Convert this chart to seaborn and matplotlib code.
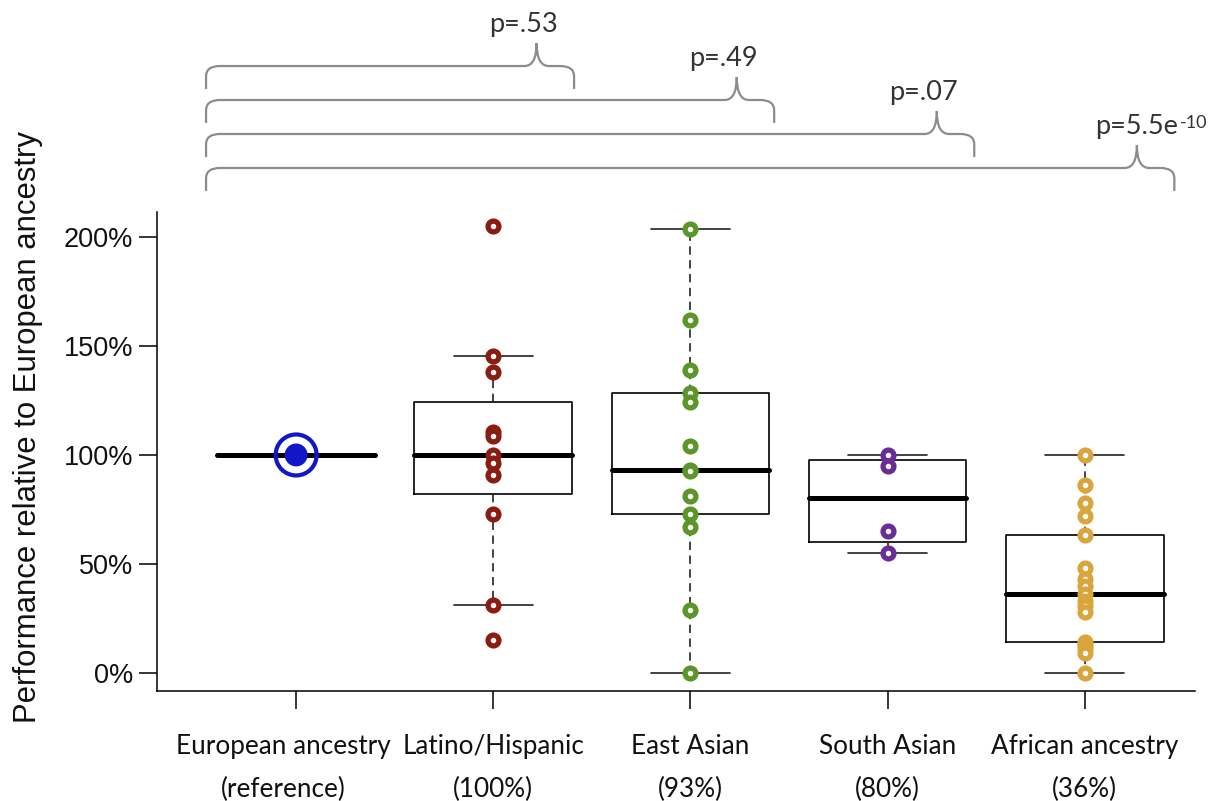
import numpy as np
import matplotlib
matplotlib.use("Agg")
import matplotlib.pyplot as plt
import matplotlib.transforms as mtransforms
from matplotlib.path import Path
from matplotlib.patches import PathPatch
import seaborn as sns

# ---- data -------------------------------------------------------------
groups = ["European ancestry", "Latino/Hispanic", "East Asian",
          "South Asian", "African ancestry"]
group_notes = ["(reference)", "(100%)", "(93%)", "(80%)", "(36%)"]
group_colors = ["#1216c6", "#8a1c12", "#5c952a", "#6a2c95", "#d8a63c"]

european = [100]
latino = [205, 145.6, 138, 110.5, 108.5, 100, 96.5, 91, 73, 31, 15]
east_asian = [204, 162, 139, 128.6, 124.5, 104, 93, 92.5, 81, 73, 67, 28.8, 0]
south_asian = [100, 95, 65, 55]
african = [100, 86, 78, 72, 63, 48, 43, 40, 36, 33, 30.5, 28,
           14, 12.5, 11, 9, 0]
group_values = [european, latino, east_asian, south_asian, african]

# comparisons against the reference group (index of group) and p-values
compared = [1, 2, 3, 4]
p_texts = ["p=.53", "p=.49", "p=.07", "p=5.5e"]
p_exponents = ["", "", "", "-10"]

y_ticks = [0, 50, 100, 150, 200]
y_tick_labels = ["0%", "50%", "100%", "150%", "200%"]


def tukey_box_stats(values):
    """Box statistics using Tukey hinges (five-number summary)."""
    v = np.sort(np.asarray(values, dtype=float))
    n = len(v)
    n4 = np.floor((n + 3) / 2) / 2
    d = np.array([1, n4, (n + 1) / 2, n + 1 - n4, n]) - 1
    q = 0.5 * (v[np.floor(d).astype(int)] + v[np.ceil(d).astype(int)])
    _, q1, med, q3, _ = q
    iqr = q3 - q1
    lo = v[v >= q1 - 1.5 * iqr].min()
    hi = v[v <= q3 + 1.5 * iqr].max()
    return dict(med=med, q1=q1, q3=q3, whislo=lo, whishi=hi, fliers=[])


def style_new_points(ax, start, face, edge):
    for coll in ax.collections[start:]:
        coll.set_facecolor(face)
        coll.set_edgecolor(edge)


# ---- style ------------------------------------------------------------
sns.set_style("ticks")
plt.rcParams["font.family"] = ["Liberation Sans", "DejaVu Sans"]
plt.rcParams["mathtext.default"] = "regular"
label_font = ["Lato", "DejaVu Sans"]

fig = plt.figure(figsize=(12.13, 8.01), dpi=100)
ax = fig.add_axes([0.1294, 0.1377, 0.8558, 0.5976])

# ---- boxes ------------------------------------------------------------
stats = [tukey_box_stats(v) for v in group_values]
ax.bxp(stats, positions=range(len(groups)), widths=0.8, capwidths=0.4,
       showfliers=False, manage_ticks=False,
       boxprops=dict(color="black", linewidth=1.2),
       medianprops=dict(color="black", linewidth=3.6,
                        solid_capstyle="round"),
       whiskerprops=dict(color="#222222", linewidth=1.2,
                         linestyle=(0, (5, 3.3))),
       capprops=dict(color="#222222", linewidth=1.2))

# ---- points -----------------------------------------------------------
for name, vals, col in zip(groups[1:], group_values[1:], group_colors[1:]):
    start = len(ax.collections)
    sns.stripplot(x=[name] * len(vals), y=vals, order=groups, jitter=False,
                  size=7.8, linewidth=3.8, color=col, edgecolor=col,
                  ax=ax, zorder=4)
    style_new_points(ax, start, "white", col)

# reference group: filled dot inside a ring
start = len(ax.collections)
sns.stripplot(x=[groups[0]], y=european, order=groups, jitter=False,
              size=29.5, linewidth=3.0, color=group_colors[0],
              edgecolor=group_colors[0], ax=ax, zorder=4)
style_new_points(ax, start, "none", group_colors[0])
start = len(ax.collections)
sns.stripplot(x=[groups[0]], y=european, order=groups, jitter=False,
              size=16.5, linewidth=0, color=group_colors[0],
              ax=ax, zorder=5)
style_new_points(ax, start, group_colors[0], "none")

# ---- axes -------------------------------------------------------------
ax.set_xlim(-0.706, 4.56)
ax.set_ylim(-8.3, 211.6)
ax.set_yticks(y_ticks)
ax.set_yticklabels(y_tick_labels, fontsize=19.5, color="#111111")
ax.set_xticks(range(len(groups)))
ax.set_xticklabels([f"{g}\n{n}" for g, n in zip(groups, group_notes)],
                   fontsize=18.8, fontfamily=label_font, color="#111111",
                   linespacing=1.9)
ax.tick_params(axis="both", length=13, width=1.1, color="black",
               direction="out")
ax.tick_params(axis="x", pad=18)
ax.tick_params(axis="y", pad=4)
# nudge the first category label left so it clears its neighbour
first = ax.get_xticklabels()[0]
first.set_transform(first.get_transform() +
                    mtransforms.ScaledTranslation(-0.13, 0,
                                                  fig.dpi_scale_trans))
ax.set_xlabel("")
ax.set_ylabel("Performance relative to European ancestry", fontsize=22.4,
              color="#111111")
ax.yaxis.set_label_coords(-0.110, 0.551)
for side in ("top", "right"):
    ax.spines[side].set_visible(False)
for side in ("left", "bottom"):
    ax.spines[side].set_linewidth(1.1)
    ax.spines[side].set_color("black")

# ---- significance braces ---------------------------------------------
trans = mtransforms.blended_transform_factory(ax.transData, ax.transAxes)
x_left = -0.457
brace_h = 0.048
end_rx = 0.07
tip_rx = 0.062
line_levels = [1.305, 1.234, 1.163, 1.092]

for k, (idx, txt, sup) in enumerate(zip(compared, p_texts, p_exponents)):
    yl = line_levels[k]
    xr = idx + 0.41 + 0.015 * k
    xt = xr - 0.19
    verts = [
        (x_left, yl - brace_h), (x_left, yl - 0.45 * brace_h),
        (x_left, yl), (x_left + end_rx, yl),
        (xt - tip_rx, yl),
        (xt, yl), (xt, yl + brace_h),
        (xt, yl), (xt + tip_rx, yl),
        (xr - end_rx, yl),
        (xr, yl), (xr, yl - 0.45 * brace_h),
        (xr, yl - brace_h),
    ]
    codes = [Path.MOVETO, Path.LINETO,
             Path.CURVE3, Path.CURVE3,
             Path.LINETO,
             Path.CURVE3, Path.CURVE3,
             Path.CURVE3, Path.CURVE3,
             Path.LINETO,
             Path.CURVE3, Path.CURVE3,
             Path.LINETO]
    ax.add_patch(PathPatch(Path(verts, codes), transform=trans, fill=False,
                           edgecolor="#8c8c8c", linewidth=1.6,
                           clip_on=False))
    ty = yl + 0.071
    if sup:
        t = ax.text(xt, ty, txt, transform=trans, ha="center",
                    va="baseline", fontsize=19.5, color="#333333",
                    fontfamily=label_font)
        ax.annotate(sup, xy=(1.02, 0.95), xycoords=t, ha="left", va="top",
                    fontsize=13, color="#333333", fontfamily=label_font)
    else:
        ax.text(xt - 0.065, ty, txt, transform=trans, ha="center",
                va="baseline", fontsize=19.5, color="#333333",
                fontfamily=label_font)

fig.savefig("out.png", dpi=100)
